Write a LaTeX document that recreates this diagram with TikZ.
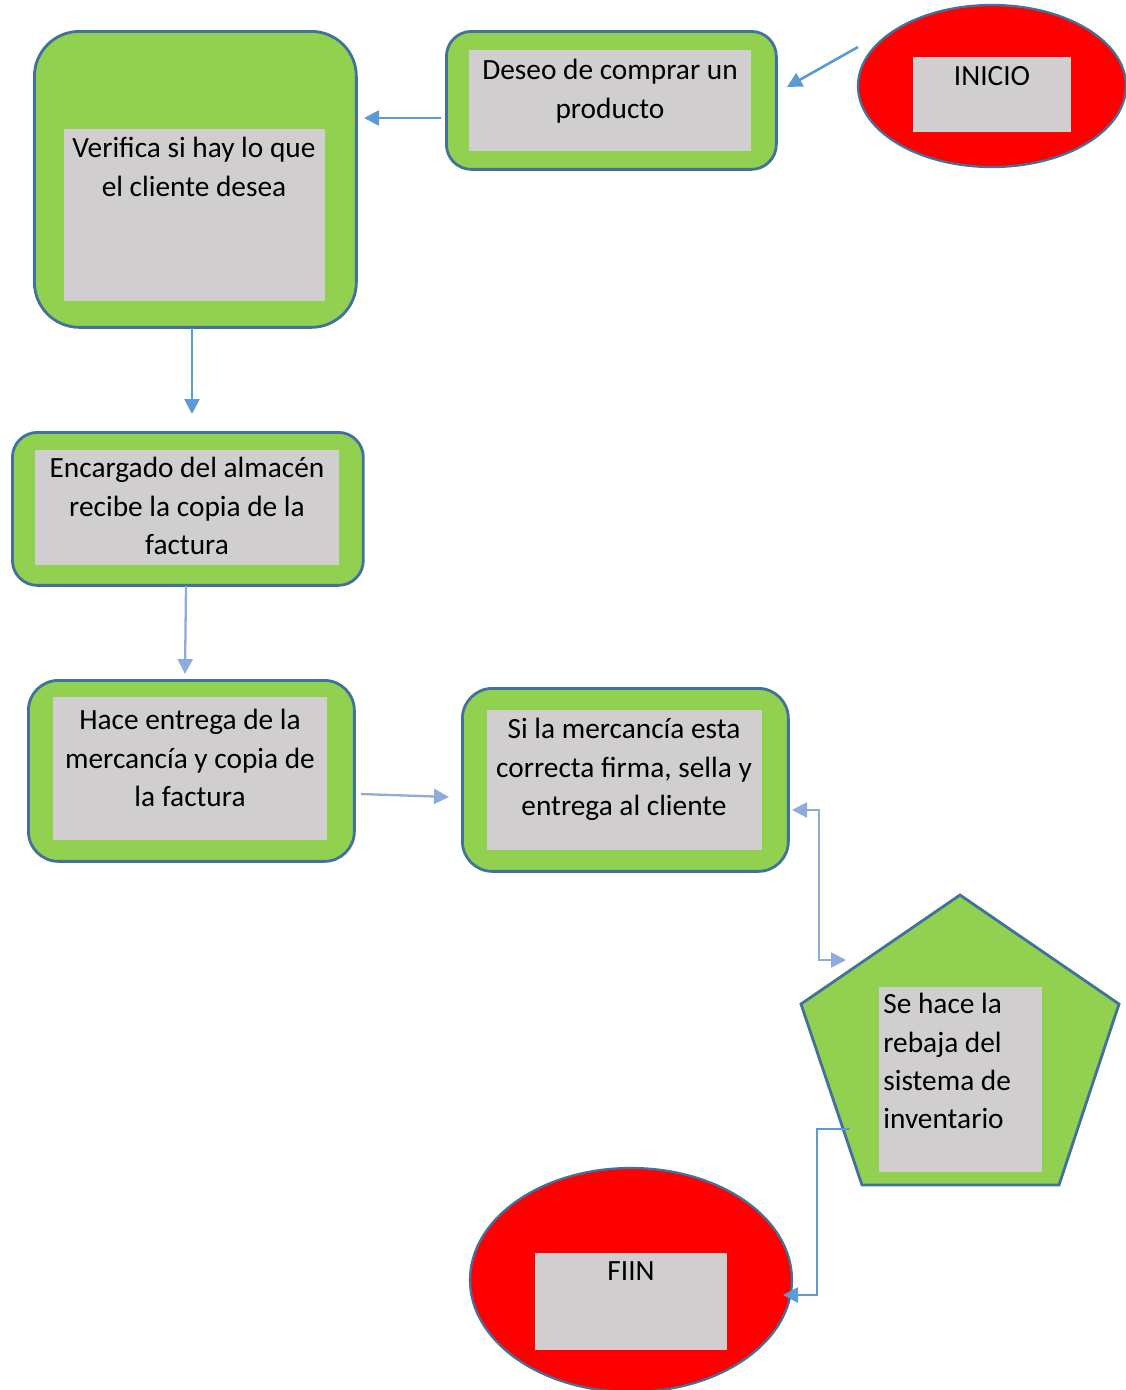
\documentclass[tikz,border=0pt]{standalone}
\usepackage{fontspec}
\setmainfont{Carlito}
\usetikzlibrary{arrows.meta,shapes.geometric}
\definecolor{boxgreen}{HTML}{92D050}
\definecolor{boxline}{HTML}{41719C}
\definecolor{innergray}{HTML}{D0CECE}
\definecolor{arrowblue}{HTML}{5B9BD5}
\definecolor{arrowlight}{HTML}{8FAADC}
\definecolor{endred}{HTML}{FF0000}
\begin{document}
\begin{tikzpicture}[x=0.02cm,y=-0.02cm,
  greenbox/.style={draw=boxline, line width=1.6pt, fill=boxgreen, inner sep=0pt, anchor=north west},
  redoval/.style={ellipse, draw=boxline, line width=1.3pt, fill=endred, inner sep=0pt},
  graybox/.style={fill=innergray, inner sep=0pt, anchor=north west},
  label/.style={font=\fontsize{16.7}{21.8}\selectfont, inner sep=0pt, anchor=north, align=center},
  conn/.style={draw=arrowblue, line width=1.5pt, -{Triangle[length=0.3cm,width=0.3cm]}},
  connlight/.style={draw=arrowlight, line width=1.3pt, -{Triangle[length=0.3cm,width=0.3cm]}},
  connboth/.style={draw=arrowlight, line width=1.3pt, {Triangle[length=0.3cm,width=0.3cm]}-{Triangle[length=0.3cm,width=0.3cm]}}
]
\useasboundingbox (0,0) rectangle (1126,1390);

% Verifica
\node[greenbox, rounded corners=0.9cm, minimum width=6.44cm, minimum height=5.92cm] (verifica) at (33,30) {};
\node[graybox, minimum width=5.22cm, minimum height=3.44cm] (verificag) at (64,129) {};
\node[label] (verificat) at (194,137) {Verifica si hay lo que\\el cliente desea};

% Deseo
\node[greenbox, rounded corners=0.5cm, minimum width=6.6cm, minimum height=2.76cm] (deseo) at (445,30) {};
\node[graybox, minimum width=5.64cm, minimum height=2.02cm] (deseog) at (469,50) {};
\node[label] (deseot) at (610,59) {Deseo de comprar un\\producto};

% INICIO
\node[redoval, minimum width=5.36cm, minimum height=3.24cm] (inicio) at (992,86) {};
\node[graybox, minimum width=3.16cm, minimum height=1.5cm] (iniciog) at (913,57) {};
\node[label] (iniciot) at (992,66) {INICIO};

% Encargado
\node[greenbox, rounded corners=0.5cm, minimum width=7.02cm, minimum height=3.06cm] (encargado) at (11,431) {};
\node[graybox, minimum width=6.08cm, minimum height=2.3cm] (encargadog) at (35,450) {};
\node[label] (encargadot) at (187,457) {Encargado del almacén\\recibe la copia de la\\factura};

% Hace entrega
\node[greenbox, rounded corners=0.6cm, minimum width=6.52cm, minimum height=3.62cm] (hace) at (27,679) {};
\node[graybox, minimum width=5.48cm, minimum height=2.86cm] (haceg) at (53,697) {};
\node[label] (hacet) at (190,709) {Hace entrega de la\\mercancía y copia de\\la factura};

% Si la mercancia
\node[greenbox, rounded corners=0.6cm, minimum width=6.52cm, minimum height=3.66cm] (si) at (461,687) {};
\node[graybox, minimum width=5.5cm, minimum height=2.8cm] (sig) at (487,710) {};
\node[label] (sit) at (624,718) {Si la mercancía esta\\correcta firma, sella y\\entrega al cliente};

% Pentagon
\draw[draw=boxline, line width=1.6pt, fill=boxgreen, line join=miter]
  (960,895) -- (1119,1004) -- (1059,1185) -- (862,1185) -- (801,1004) -- cycle;
\node[graybox, minimum width=3.26cm, minimum height=3.7cm] (rebajag) at (879,987) {};
\node[label, anchor=north west, align=left] (rebajat) at (883,993) {Se hace la\\rebaja del\\sistema de\\inventario};

% FIIN
\node[redoval, minimum width=6.44cm, minimum height=4.48cm] (fiin) at (631,1280) {};
\node[graybox, minimum width=3.84cm, minimum height=1.94cm] (fiing) at (535,1253) {};
\node[label] (fiint) at (631,1261) {FIIN};

% Connectors
\coordinate (c1s) at (858,47); \coordinate (c1e) at (787,87);
\draw[conn] (c1s) -- (c1e);
\coordinate (c2s) at (441,118); \coordinate (c2e) at (364,118);
\draw[conn] (c2s) -- (c2e);
\coordinate (c3s) at (192,328); \coordinate (c3e) at (192,414);
\draw[conn] (c3s) -- (c3e);
\coordinate (c4s) at (186,586); \coordinate (c4e) at (185,674);
\draw[connlight] (c4s) -- (c4e);
\coordinate (c5s) at (361,794); \coordinate (c5e) at (449,797);
\draw[connlight] (c5s) -- (c5e);
\coordinate (c6s) at (792,810); \coordinate (c6e) at (846,960);
\draw[connboth] (c6s) -- (819,810) -- (819,960) -- (c6e);
\coordinate (c7s) at (850,1129); \coordinate (c7e) at (783,1295);
\draw[conn] (c7s) -- (817,1129) -- (817,1295) -- (c7e);
\end{tikzpicture}
\end{document}
